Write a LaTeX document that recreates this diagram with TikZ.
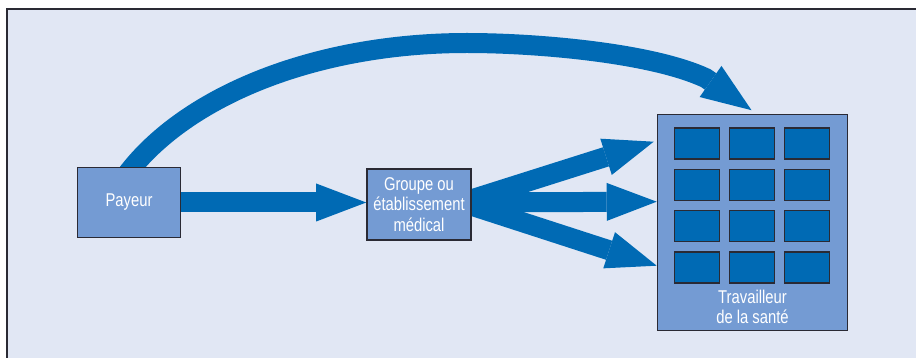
\documentclass[tikz,border=0pt]{standalone}
\usepackage{fontspec}
\setmainfont[FakeStretch=0.8]{Liberation Sans}
\usetikzlibrary{arrows.meta}
\definecolor{bgblue}{RGB}{225,231,244}
\definecolor{boxblue}{RGB}{116,155,211}
\definecolor{flowblue}{RGB}{0,106,180}
\definecolor{edgegray}{RGB}{42,42,52}
\pgfdeclarelayer{back}
\pgfdeclarelayer{flowlayer}
\pgfsetlayers{back,flowlayer,main}
\tikzset{
  boxnode/.style={draw=edgegray, line width=1.6pt, fill=boxblue, text=white,
    font=\fontsize{18.5}{20.5}\selectfont, inner sep=0pt, align=center},
  win/.style={draw=edgegray, line width=1.5pt, fill=flowblue,
    minimum width=45.4pt, minimum height=31pt, inner sep=0pt},
  flow/.style={draw=flowblue, line width=20pt, line join=round,
    -{Triangle[length=50pt,width=38pt,line width=0pt]}},
  lbl/.style={text=white, font=\fontsize{18.5}{20.5}\selectfont, inner sep=0pt, align=center}
}
\begin{document}
\begin{tikzpicture}[x=1pt,y=-1pt]
\useasboundingbox (0,0) rectangle (916,358);
\begin{pgfonlayer}{back}
  \fill[white] (0,0) rectangle (916,358);
  \fill[bgblue] (7,9) rectangle (916,358);
  \draw[edgegray, line width=2pt] (7,358) -- (7,9) -- (916,9);
\end{pgfonlayer}

\node[boxnode, minimum width=103pt, minimum height=70pt] (pay) at (129,202.5) {Payeur};
\node[boxnode, minimum width=104pt, minimum height=71pt] (grp) at (419,204.5) {Groupe ou\\établissement\\médical};
\node[boxnode, minimum width=190pt, minimum height=216pt] (bld) at (752.5,222.5) {};

\foreach \r/\y in {1/143.5,2/184.8,3/226.2,4/267.5}{
  \foreach \c/\x in {1/697,2/752,3/807}{
    \node[win] (w\r\c) at (\x,\y) {};
  }
}
\node[lbl] (bldlabel) at (752.5,307) {Travailleur\\de la santé};

\begin{pgfonlayer}{flowlayer}
  \draw[flow] ([xshift=-5pt]pay.east) -- (pay.east -| grp.west);
  \draw[flow] ([shift={(-10pt,2pt)}]grp.east) -- ([shift={(-3pt,-28pt)}]bld.north west);
  \draw[flow] ([shift={(-10pt,2pt)}]grp.east) -- ([yshift=-88pt]bld.north west);
  \draw[flow] ([shift={(-10pt,2pt)}]grp.east) -- ([yshift=-152pt]bld.north west);
  \draw[flow] ([shift={(-2.5pt,-8pt)}]pay.north)
     .. controls (186.5,95) and (317,43) .. (467,43)
     .. controls (537,43) and (651.5,52.8) .. (705.9,78.2)
     -- ([shift={(-1pt,3.5pt)}]bld.north);
\end{pgfonlayer}
\end{tikzpicture}
\end{document}
